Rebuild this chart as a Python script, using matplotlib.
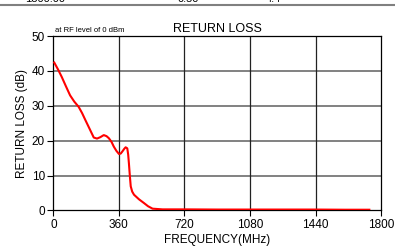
import matplotlib
matplotlib.use("Agg")
import matplotlib.pyplot as plt
from matplotlib.lines import Line2D

plt.rcParams['font.family'] = ['Liberation Sans', 'DejaVu Sans']

# 频率 (MHz) 与回波损耗 (dB)
freq = [5, 25, 46, 70, 92, 115, 139, 158, 176, 200, 222, 240, 258, 277, 292, 305,
        320, 332, 346, 360, 370, 379, 390, 397, 406, 411, 415, 420, 425, 433, 443,
        470, 498, 520, 545, 600, 720, 900, 1080, 1260, 1440, 1600, 1735]
loss = [42.4, 40.5, 38.3, 35.5, 33.0, 31.2, 29.7, 27.9, 25.9, 23.3, 20.9, 20.6, 21.0, 21.6, 21.3, 20.7,
        19.6, 18.3, 17.1, 16.2, 16.3, 16.9, 17.7, 18.1, 17.8, 16.0, 13.5, 10.0, 6.9, 5.4, 4.5,
        3.2, 2.1, 1.2, 0.5, 0.3, 0.3, 0.25, 0.25, 0.25, 0.25, 0.2, 0.2]

xticks = [0, 360, 720, 1080, 1440, 1800]
yticks = [0, 10, 20, 30, 40, 50]

fig = plt.figure(figsize=(3.95, 2.52), dpi=100)
ax = fig.add_axes([0.135, 0.165, 0.83, 0.692])

# 网格
for y in yticks[1:-1]:
    ax.axhline(y, color='#777777', lw=1.3, zorder=1)
for x in xticks[1:-1]:
    ax.axvline(x, color='#222222', lw=0.9, zorder=1)

ax.plot(freq, loss, color='#ff0000', lw=1.5, zorder=3)

ax.set_xlim(0, 1800)
ax.set_ylim(0, 50)
ax.set_xticks(xticks)
ax.set_yticks(yticks)
ax.tick_params(direction='out', length=4, width=0.8, labelsize=8.5, pad=2)
for s in ax.spines.values():
    s.set_linewidth(0.9)

ax.set_title('RETURN LOSS', fontsize=9, pad=3)
ax.set_xlabel('FREQUENCY(MHz)', fontsize=8.5, labelpad=2)
ax.set_ylabel('RETURN LOSS (dB)', fontsize=8.5, labelpad=3)
ax.text(0.005, 1.012, 'at RF level of 0 dBm', transform=ax.transAxes,
        fontsize=5.5, va='bottom', ha='left')

# 顶部分隔线和被截断的文字
fig.add_artist(Line2D([0, 1], [0.982, 0.982], transform=fig.transFigure,
                      color='#808080', lw=1.5))
fig.text(0.114, 1.005, '1300.00', fontsize=8, ha='center', va='center')
fig.text(0.476, 1.005, '0.50', fontsize=8, ha='center', va='center')
fig.text(0.693, 1.005, '4.4', fontsize=8, ha='center', va='center')

plt.savefig('out.png', dpi=100)
